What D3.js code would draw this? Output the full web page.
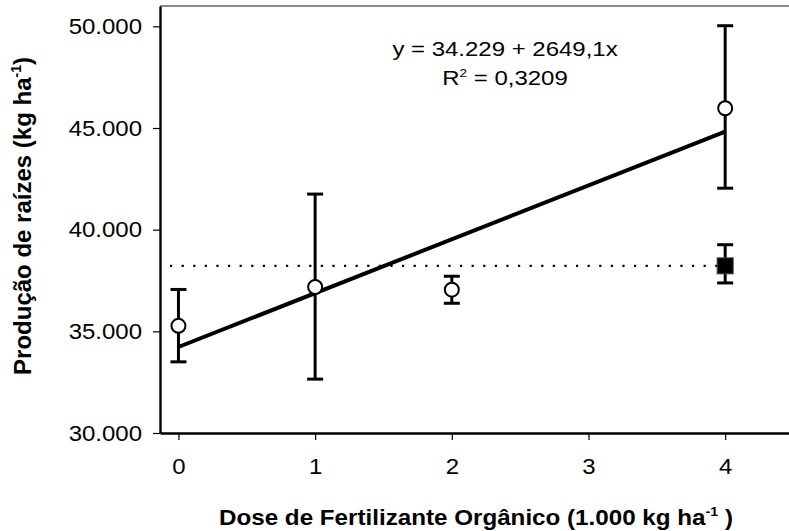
<!DOCTYPE html>
<html>
<head>
<meta charset="utf-8">
<script src="https://cdn.jsdelivr.net/npm/d3@7"></script>
<style>
  body { margin: 0; background: #fff; }
  svg { display: block; }
  text { font-family: 'Liberation Sans', Arial, sans-serif; fill: #000; }
</style>
</head>
<body>
<svg id="chart" width="789" height="531"></svg>
<script>
// doses of organic fertilizer (1.000 kg/ha), means and error bar ends
const doses = [0, 1, 2, 4]
const means = [35270, 37180, 37050, 45970]
const upper = [37060, 41750, 37710, 50030]
const lower = [33500, 32650, 36380, 42040]

// mineral fertilizer reference (filled square + dotted line)
const mineralDose = [4]
const mineralMean = [38220]
const mineralUpper = [39260]
const mineralLower = [37380]

// linear fit
const intercept = 34229
const slope = 2649.1
const r2 = 0.3209
const fitRange = [0, 4]

const xTicks = [0, 1, 2, 3, 4]
const yTicks = [30000, 35000, 40000, 45000, 50000]

const locale = d3.formatLocale({ decimal: ',', thousands: '.', grouping: [3], currency: ['', ''] })

const svg = d3.select('#chart')
const plotLeft = 160
const plotRight = 789
const plotTop = 6
const plotBottom = 433

const x = d3.scaleLinear().domain([-0.135, 4.467]).range([plotLeft, plotRight])
const y = d3.scaleLinear().domain([30000, 51000]).range([plotBottom, plotTop])

// top border
svg.append('line')
  .attr('x1', plotLeft).attr('x2', plotRight)
  .attr('y1', plotTop).attr('y2', plotTop)
  .attr('stroke', '#8a8a8a')
  .attr('stroke-width', 2)

// axes
const tickStretch = 1.09
const yAxis = svg.append('g')
  .attr('transform', 'translate(' + plotLeft + ',0)')
  .call(d3.axisLeft(y).tickValues(yTicks).tickFormat(locale.format(',.0f'))
    .tickSize(7).tickPadding(11).tickSizeOuter(0))
yAxis.selectAll('text')
  .attr('x', -18 / tickStretch)
  .attr('transform', 'scale(' + tickStretch + ',1)')

const xAxis = svg.append('g')
  .attr('transform', 'translate(0,' + plotBottom + ')')
  .call(d3.axisBottom(x).tickValues(xTicks).tickFormat(d3.format('d'))
    .tickSize(7).tickSizeOuter(0))
xAxis.selectAll('text')
  .attr('y', 41)
  .attr('dy', 0)
  .attr('transform', 'scale(' + tickStretch + ',1)')

svg.selectAll('.domain').attr('stroke', '#000').attr('stroke-width', 2.4)
svg.selectAll('.tick line').attr('stroke', '#000').attr('stroke-width', 1.2)
svg.selectAll('.tick text').attr('font-size', 22).attr('font-family', null)

// axis titles
const xTitle = svg.append('text')
  .attr('transform', 'translate(476,525) scale(1.1,1)')
  .attr('text-anchor', 'middle')
  .attr('font-size', 22)
  .attr('font-weight', 'bold')
xTitle.append('tspan').text('Dose de Fertilizante Orgânico (1.000 kg ha')
xTitle.append('tspan').attr('font-size', 13).attr('dy', -9).text('-1')
xTitle.append('tspan').attr('dy', 9).text(' )')

const yTitle = svg.append('text')
  .attr('transform', 'translate(31,216) rotate(-90)')
  .attr('text-anchor', 'middle')
  .attr('font-size', 24)
  .attr('font-weight', 'bold')
yTitle.append('tspan').text('Produção de raízes (kg ha')
yTitle.append('tspan').attr('font-size', 14).attr('dy', -10).text('-1')
yTitle.append('tspan').attr('dy', 10).text(')')

// dotted reference line at the mineral mean
svg.append('line')
  .attr('x1', x(-0.062)).attr('x2', x(mineralDose[0]))
  .attr('y1', y(mineralMean[0])).attr('y2', y(mineralMean[0]))
  .attr('stroke', '#000')
  .attr('stroke-width', 2.2)
  .attr('stroke-dasharray', '2.2 9.4')

// regression line
const line = d3.line().x(d => x(d)).y(d => y(intercept + slope * d))
svg.append('path')
  .attr('d', line(fitRange))
  .attr('fill', 'none')
  .attr('stroke', '#000')
  .attr('stroke-width', 4)

// error bars
function drawErrorBars (xs, lo, hi) {
  const g = svg.append('g').attr('stroke', '#000').attr('stroke-width', 3)
  xs.forEach((d, i) => {
    g.append('line').attr('x1', x(d)).attr('x2', x(d)).attr('y1', y(lo[i])).attr('y2', y(hi[i]))
    g.append('line').attr('x1', x(d) - 8).attr('x2', x(d) + 8).attr('y1', y(lo[i])).attr('y2', y(lo[i]))
    g.append('line').attr('x1', x(d) - 8).attr('x2', x(d) + 8).attr('y1', y(hi[i])).attr('y2', y(hi[i]))
  })
}
drawErrorBars(doses, lower, upper)
drawErrorBars(mineralDose, mineralLower, mineralUpper)

svg.selectAll('.pt')
  .data(doses)
  .enter().append('circle')
  .attr('class', 'pt')
  .attr('cx', d => x(d))
  .attr('cy', (d, i) => y(means[i]))
  .attr('r', 7)
  .attr('fill', '#fff')
  .attr('stroke', '#000')
  .attr('stroke-width', 2)

svg.selectAll('.sq')
  .data(mineralDose)
  .enter().append('rect')
  .attr('class', 'sq')
  .attr('x', d => x(d) - 8)
  .attr('y', (d, i) => y(mineralMean[i]) - 8)
  .attr('width', 16)
  .attr('height', 16)
  .attr('fill', '#000')
  .attr('stroke', '#444')
  .attr('stroke-width', 1)

// equation
const eq = svg.append('g')
  .attr('font-size', 19.5)
  .attr('text-anchor', 'middle')
eq.append('text')
  .attr('transform', 'translate(505,56) scale(1.23,1)')
  .text('y = ' + locale.format(',.0f')(intercept) + ' + ' + locale.format('.1f')(slope) + 'x')
const r2Text = eq.append('text')
  .attr('transform', 'translate(505,85) scale(1.23,1)')
r2Text.append('tspan').text('R')
r2Text.append('tspan').attr('font-size', 11).attr('dy', -8).text('2')
r2Text.append('tspan').attr('dy', 8).text(' = ' + locale.format('.4f')(r2))
</script>
</body>
</html>
